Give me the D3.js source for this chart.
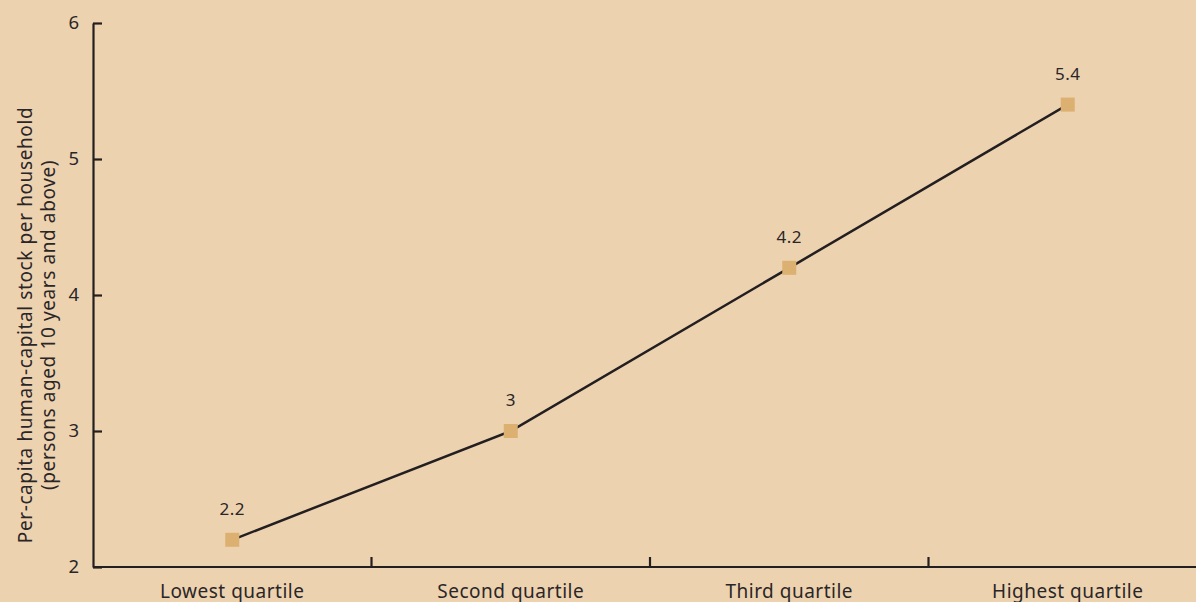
<!DOCTYPE html>
<html>
<head>
<meta charset="utf-8">
<script src="https://cdn.jsdelivr.net/npm/d3@7"></script>
<style>
  html, body { margin: 0; padding: 0; background: #edd2b0; }
  svg { display: block; }
  text { font-family: "Noto Sans", "Open Sans", sans-serif; fill: #2a2627; }
</style>
</head>
<body>
<svg id="chart" width="1196" height="602"></svg>
<script>
// Household income quartiles and per-capita human-capital stock
const categories = ["Lowest quartile", "Second quartile", "Third quartile", "Highest quartile"];
const values = [2.2, 3, 4.2, 5.4];
const yTicks = [2, 3, 4, 5, 6];
const yTitleLines = ["Per-capita human-capital stock per household", "(persons aged 10 years and above)"];

(function draw() {
  const svg = d3.select("#chart");
  const W = 1196, H = 602;
  svg.append("rect").attr("width", W).attr("height", H).attr("fill", "#edd2b0");

  const plotLeft = 93, plotRight = 1207, plotTop = 23, plotBottom = 567;

  const x = d3.scaleBand().domain(categories).range([plotLeft, plotRight]).paddingInner(0).paddingOuter(0);
  const y = d3.scaleLinear().domain([2, 6]).range([plotBottom, plotTop]);

  const ink = "#231f20";
  const font = "'Noto Sans', 'Open Sans', sans-serif";

  // Y axis, ticks pointing inward
  const yAxis = svg.append("g")
    .attr("transform", `translate(${plotLeft},0)`)
    .call(d3.axisLeft(y).tickValues(yTicks).tickFormat(d3.format("d")).tickSizeInner(-9).tickSizeOuter(0).tickPadding(14));
  yAxis.select(".domain").attr("stroke", ink).attr("stroke-width", 2.2);
  yAxis.selectAll(".tick line").attr("stroke", ink).attr("stroke-width", 2.2);
  yAxis.selectAll(".tick text").attr("font-size", 18.5).attr("fill", "#2a2627").style("font-family", font);

  // X axis with ticks on band boundaries
  const xAxisG = svg.append("g").attr("transform", `translate(0,${plotBottom})`);
  xAxisG.append("line").attr("x1", plotLeft).attr("x2", plotRight).attr("y1", 0).attr("y2", 0)
    .attr("stroke", ink).attr("stroke-width", 2.2);
  xAxisG.selectAll(".tk").data(categories.slice(1)).enter().append("line")
    .attr("x1", d => x(d)).attr("x2", d => x(d)).attr("y1", 0).attr("y2", -10)
    .attr("stroke", ink).attr("stroke-width", 2.2);
  xAxisG.selectAll(".lbl").data(categories).enter().append("text")
    .attr("x", d => x(d) + x.bandwidth() / 2).attr("y", 31)
    .attr("text-anchor", "middle").attr("font-size", 19).attr("letter-spacing", 0.5).text(d => d);

  // Y axis title
  const yTitle = svg.append("text")
    .attr("transform", `translate(0,325) rotate(-90)`)
    .attr("text-anchor", "middle").attr("font-size", 19).attr("letter-spacing", 0.6);
  yTitle.selectAll("tspan").data(yTitleLines).enter().append("tspan")
    .attr("x", 0).attr("y", (d, i) => 32 + i * 23).text(d => d);

  // Line
  const cx = d => x(d) + x.bandwidth() / 2;
  const pts = categories.map((c, i) => [cx(c), y(values[i])]);
  svg.append("path").attr("d", d3.line()(pts)).attr("fill", "none")
    .attr("stroke", ink).attr("stroke-width", 2.5);

  // Square markers
  const s = 14;
  svg.selectAll(".mk").data(pts).enter().append("rect")
    .attr("x", d => d[0] - s / 2).attr("y", d => d[1] - s / 2)
    .attr("width", s).attr("height", s).attr("fill", "#dcb070");

  // Value labels
  svg.selectAll(".vl").data(pts).enter().append("text")
    .attr("x", d => d[0]).attr("y", d => d[1] - 25)
    .attr("text-anchor", "middle").attr("font-size", 17).attr("letter-spacing", 0.5)
    .text((d, i) => values[i]);
})();
</script>
</body>
</html>
